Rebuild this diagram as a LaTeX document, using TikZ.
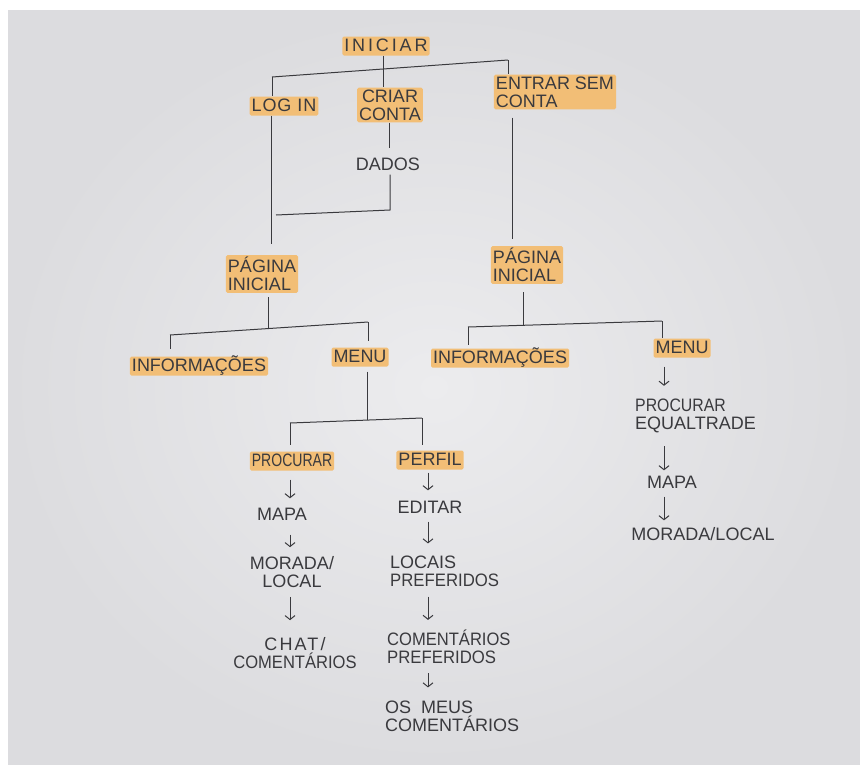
\documentclass[tikz,border=0pt]{standalone}
\usepackage{fontspec}
\setmainfont{Liberation Sans}
\usetikzlibrary{arrows.meta,calc}
\definecolor{ink}{HTML}{3A3A3E}
\definecolor{hlc}{HTML}{F2BE76}
\definecolor{paperIn}{HTML}{ECECEE}
\definecolor{paperOut}{HTML}{DCDCDF}
\begin{document}
\begin{tikzpicture}[x=1pt,y=-1pt,
  txt/.style={font=\fontsize{18}{18}\selectfont, text=ink, inner sep=2pt},
  one/.style={text height=13pt, text depth=2pt},
  hl/.style={txt, fill=hlc, rounded corners=1.5pt},
  conn/.style={draw=ink, line width=1pt},
  arr/.style={conn, -{Straight Barb[length=4pt,width=10pt]}},
]
\useasboundingbox (0,0) rectangle (860,764);
\fill[white] (0,0) rectangle (860,764);
\shade[inner color=paperIn, outer color=paperOut] (8,10) rectangle (860,764);

% ---------- nodes ----------
\node[hl,one] (iniciar) at (386,46) {\addfontfeature{LetterSpace=16}INICIAR};
\node[hl,one] (login) at (284,106) {\addfontfeature{LetterSpace=5}LOG IN};
\node[hl,align=center] (criar) at (390,105) {CRIAR\\CONTA};
\node[hl,align=left] (entrar) at (555,92) {ENTRAR SEM\\CONTA};
\node[txt,one] (dados) at (388,165) {DADOS};

\node[hl,align=left] (pil) at (262,274) {PÁGINA\\INICIAL};
\node[hl,align=left] (pir) at (527,265) {PÁGINA\\INICIAL};

\node[hl,one] (infol) at (199,366) {INFORMAÇÕES};
\node[hl,one] (menul) at (360,357) {MENU};
\node[hl,one] (infor) at (500,358) {INFORMAÇÕES};
\node[hl,one] (menur) at (682,348) {MENU};

\node[hl,one] (procurar) at (292,461) {\scalebox{0.78}[1]{PROCURAR}};
\node[hl,one] (perfil) at (430,460) {PERFIL};

\node[txt,one] (mapaL) at (282,515) {MAPA};
\node[txt,align=center] (moradaL) at (292,572) {MORADA/\\LOCAL};
\node[txt,align=center] (chat) at (295,653) {\addfontfeature{LetterSpace=12}CHAT/\\\scalebox{0.92}[1]{COMENTÁRIOS}};

\node[txt,one] (editar) at (430,508) {EDITAR};
\node[txt,align=left,anchor=west] (locais) at (388,571) {LOCAIS\\\scalebox{0.93}[1]{PREFERIDOS}};
\node[txt,align=left,anchor=west] (compref) at (385,647) {\scalebox{0.92}[1]{COMENTÁRIOS}\\\scalebox{0.93}[1]{PREFERIDOS}};
\node[txt,align=left,anchor=west] (osmeus) at (383,716) {OS\hspace{10pt}MEUS\\COMENTÁRIOS};

\node[txt,align=left,anchor=west] (proceq) at (633,416) {\scalebox{0.88}[1]{PROCURAR}\\EQUALTRADE};
\node[txt,one] (mapaR) at (672,483) {MAPA};
\node[txt,one] (moradaR) at (703,535) {MORADA/LOCAL};

% ---------- helper coordinates ----------
\coordinate (bL) at (272,77);
\coordinate (bR) at (508,60);
\coordinate (bM) at (383,69);
\coordinate (xLog) at (271,0);
\coordinate (xD) at (389,0);
\coordinate (dC) at (390,210);
\coordinate (dE) at (276,215);
\coordinate (xE) at (512,0);
\coordinate (pL1) at (170,335);
\coordinate (pL2) at (368,322);
\coordinate (pLM) at (268,328.6);
\coordinate (mL1) at (290,423);
\coordinate (mL2) at (422,418);
\coordinate (mLM) at (367,420);
\coordinate (pR1) at (468,327);
\coordinate (pR2) at (662,321);
\coordinate (pRM) at (523,325.3);
\coordinate (xR) at (664,0);
\coordinate (xL) at (290,0);
\coordinate (xP) at (428,0);

% ---------- connectors ----------
\draw[conn] (iniciar.south -| bM) -- (bM);
\draw[conn] (bL) -- (bR);
\draw[conn] (bL) -- (login.north -| bL);
\draw[conn] (bM) -- (criar.north -| bM);
\draw[conn] (bR) -- (entrar.north -| bR);

\draw[conn,shorten >=11pt] (login.south -| xLog) -- (pil.north -| xLog);
\draw[conn,shorten >=7pt] (criar.south -| xD) -- (dados.north -| xD);
\draw[conn] (dados.south -| dC) -- (dC) -- (dE);
\draw[conn,shorten <=8pt,shorten >=7pt] (entrar.south -| xE) -- (pir.north -| xE);

\draw[conn,shorten <=4pt] (pil.south -| pLM) -- (pLM);
\draw[conn] (pL1) -- (pL2);
\draw[conn,shorten >=7pt] (pL1) -- (infol.north -| pL1);
\draw[conn,shorten >=6pt] (pL2) -- (menul.north -| pL2);

\draw[conn,shorten <=5pt] (menul.south -| mLM) -- (mLM);
\draw[conn] (mL1) -- (mL2);
\draw[conn,shorten >=6pt] (mL1) -- (procurar.north -| mL1);
\draw[conn,shorten >=5pt] (mL2) -- (perfil.north -| mL2);

\draw[conn,shorten <=8pt] (pir.south -| pRM) -- (pRM);
\draw[conn] (pR1) -- (pR2);
\draw[conn,shorten >=3pt] (pR1) -- (infor.north -| pR1);
\draw[conn] (pR2) -- (menur.north -| pR2);

\draw[arr,shorten <=9pt,shorten >=11pt] (menur.south -| xR) -- (proceq.north -| xR);
\draw[arr,shorten <=11pt,shorten >=3pt] (proceq.south -| xR) -- (mapaR.north -| xR);
\draw[arr,shorten <=4pt,shorten >=5pt] (mapaR.south -| xR) -- (moradaR.north -| xR);

\draw[arr,shorten <=9pt,shorten >=7pt] (procurar.south -| xL) -- (mapaL.north -| xL);
\draw[arr,shorten <=10pt,shorten >=7pt] (mapaL.south -| xL) -- (moradaL.north -| xL);
\draw[arr,shorten <=7pt,shorten >=15pt] (moradaL.south -| xL) -- (chat.north -| xL);

\draw[arr,shorten <=3pt,shorten >=8pt] (perfil.south -| xP) -- (editar.north -| xP);
\draw[arr,shorten <=4pt,shorten >=10pt] (editar.south -| xP) -- (locais.north -| xP);
\draw[arr,shorten <=8pt,shorten >=8pt] (locais.south -| xP) -- (compref.north -| xP);
\draw[arr,shorten <=7pt,shorten >=11pt] (compref.south -| xP) -- (osmeus.north -| xP);
\end{tikzpicture}
\end{document}
